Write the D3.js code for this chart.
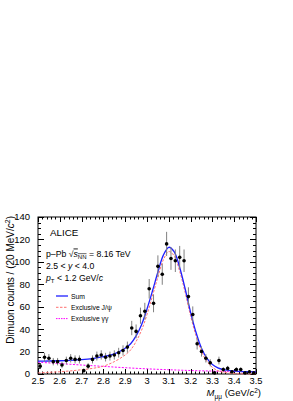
<!DOCTYPE html>
<html><head><meta charset="utf-8">
<script src="https://cdn.jsdelivr.net/npm/d3@7"></script>
<style>body{margin:0;background:#fff}svg{display:block;font-family:"Liberation Sans",Arial,sans-serif}</style>
</head><body><svg id="c" width="293" height="401"></svg>
<script>
// Data: bin centers (20 MeV bins) and counts
const binCenters = [2.51,2.53,2.55,2.57,2.59,2.61,2.63,2.65,2.67,2.69,2.71,2.73,2.75,2.77,2.79,2.81,2.83,2.85,2.87,2.89,2.91,2.93,2.95,2.97,2.99,3.01,3.03,3.05,3.07,3.09,3.11,3.13,3.15,3.17,3.19,3.21,3.23,3.25,3.27,3.29,3.31,3.33,3.35,3.37,3.39,3.41,3.43,3.45,3.47,3.49];
const counts = [7,15,14,11,11,8,12,14,13,13,3,7,13,16,17,15,16,17,19,21,24,41,38,52,56,76,63,96,89,116,103,101,104,101,69,53,27,20,14,10,1,12,4,5,2,4,4,1,2,1];
// Fit curves
const sumX = [2.50,2.55,2.60,2.65,2.70,2.75,2.80,2.85,2.90,2.925,2.95,2.975,3.00,3.025,3.05,3.075,3.10,3.125,3.15,3.175,3.20,3.225,3.25,3.275,3.30,3.325,3.35,3.40,3.45,3.50];
const sumY = [11.5,11.6,11.8,12.2,12.8,13.8,15.5,18,23,27,34,44,58,74,91,106,113,109,95,76,55,37,23,14,8.5,5.5,4,2.6,2.1,1.9];
const jpsiX = [2.50,2.55,2.60,2.65,2.70,2.75,2.80,2.85,2.90,2.925,2.95,2.975,3.00,3.025,3.05,3.075,3.10,3.125,3.15,3.175,3.20,3.225,3.25,3.275,3.30,3.325,3.35,3.40,3.45,3.50];
const jpsiY = [1,1.5,2,2.8,3.8,5,7,11,17,21.5,29,39,53,69.5,86.5,101.8,109.2,105.3,91.5,72.7,51.9,34,20,11.2,5.9,3,1.6,0.4,0.1,0];
const ggX = [2.50,2.60,2.70,2.80,2.90,3.00,3.10,3.20,3.30,3.40,3.50];
const ggY = [10.5,9.3,8.0,6.8,5.6,4.6,3.8,3.1,2.6,2.2,1.9];
const xTicks = [2.5,2.6,2.7,2.8,2.9,3,3.1,3.2,3.3,3.4,3.5];
const yTicks = [0,20,40,60,80,100,120,140];

const svg = d3.select("#c");
const L=38, R=256, T=217, B=374;
const x = d3.scaleLinear().domain([2.5,3.5]).range([L,R]);
const y = d3.scaleLinear().domain([0,140]).range([B,T]);

// frame
svg.append("rect").attr("x",L).attr("y",T).attr("width",R-L).attr("height",B-T)
  .attr("fill","none").attr("stroke","#000").attr("stroke-width",1);

// ticks (inside, all sides)
const g = svg.append("g").attr("stroke","#000").attr("stroke-width",1);
const xMinor = d3.range(0,51).map(i=>2.5+i*0.02);
xMinor.forEach((v,i)=>{
  const major = i%5===0, len = major?5:2.5;
  const px = Math.round(x(v))+0.5;
  g.append("line").attr("x1",px).attr("x2",px).attr("y1",B).attr("y2",B-len);
  g.append("line").attr("x1",px).attr("x2",px).attr("y1",T).attr("y2",T+len);
});
const yMinor = d3.range(0,29).map(i=>i*5);
yMinor.forEach((v,i)=>{
  const major = i%4===0, len = major?6:3;
  const py = Math.round(y(v))+0.5;
  g.append("line").attr("x1",L).attr("x2",L+len).attr("y1",py).attr("y2",py);
  g.append("line").attr("x1",R).attr("x2",R-len).attr("y1",py).attr("y2",py);
});

// tick labels
svg.append("g").selectAll("text").data(xTicks).join("text")
  .attr("x",d=>x(d)).attr("y",384).attr("text-anchor","middle")
  .attr("font-size",9.3).text(d=>d3.format("~g")(d));
svg.append("g").selectAll("text").data(yTicks).join("text")
  .attr("x",30).attr("y",d=>y(d)+3.4).attr("text-anchor","end")
  .attr("font-size",9.5).text(d=>d);

// axis titles
const yt = svg.append("text").attr("transform",`translate(14,${T-1}) rotate(-90)`)
  .attr("text-anchor","end").attr("font-size",10);
yt.append("tspan").text("Dimuon counts / (20 MeV/");
yt.append("tspan").attr("font-style","italic").text("c");
yt.append("tspan").attr("dy",-3.7).attr("font-size",7).text("2");
yt.append("tspan").attr("dy",3.7).text(")");

const xt = svg.append("text").attr("x",261).attr("y",396).attr("text-anchor","end").attr("font-size",9.5);
xt.append("tspan").attr("font-style","italic").text("M");
xt.append("tspan").attr("dy",2.5).attr("font-size",6.5).text("μμ");
xt.append("tspan").attr("dy",-2.5).text(" (GeV/");
xt.append("tspan").attr("font-style","italic").text("c");
xt.append("tspan").attr("dy",-3.5).attr("font-size",6.5).text("2");
xt.append("tspan").attr("dy",3.5).text(")");

// curves
const line = (xs,ys)=>d3.line().curve(d3.curveCatmullRom.alpha(0.5))
  .x((d,i)=>x(xs[i])).y((d,i)=>y(ys[i]))(ys);
svg.append("path").attr("d",line(ggX,ggY)).attr("fill","none")
  .attr("stroke","#ff00ff").attr("stroke-width",1).attr("stroke-dasharray","2,1.5");
svg.append("path").attr("d",line(jpsiX,jpsiY)).attr("fill","none")
  .attr("stroke","#ff7070").attr("stroke-width",1).attr("stroke-dasharray","2.5,1.5");
svg.append("path").attr("d",line(sumX,sumY)).attr("fill","none")
  .attr("stroke","#1f1fff").attr("stroke-width",1.3);

// data points with error bars
const pts = svg.append("g");
binCenters.forEach((c,i)=>{
  const n = counts[i], e = Math.sqrt(n);
  pts.append("line").attr("x1",x(c)).attr("x2",x(c))
    .attr("y1",y(Math.max(0,n-e))).attr("y2",y(n+e))
    .attr("stroke","#808080").attr("stroke-width",1);
});
pts.selectAll("circle").data(counts).join("circle")
  .attr("cx",(d,i)=>x(binCenters[i])).attr("cy",d=>y(d)).attr("r",1.8).attr("fill","#000");

// labels
svg.append("text").attr("x",50).attr("y",236).attr("font-size",9.8).text("ALICE");
const t1 = svg.append("text").attr("x",46).attr("y",256.5).attr("font-size",8.7);
t1.append("tspan").text("p–Pb ");
t1.append("tspan").text("√");
t1.append("tspan").attr("font-style","italic").attr("text-decoration","overline").text("s");
t1.append("tspan").attr("dy",2).attr("font-size",6).attr("text-decoration","overline").text("NN");
t1.append("tspan").attr("dy",-2).text(" = 8.16 TeV");
const t2 = svg.append("text").attr("x",46).attr("y",269).attr("font-size",8.7);
t2.append("tspan").text("2.5 < ");
t2.append("tspan").attr("font-style","italic").text("y");
t2.append("tspan").text(" < 4.0");
const t3 = svg.append("text").attr("x",46).attr("y",280.5).attr("font-size",8.7);
t3.append("tspan").attr("font-style","italic").text("p");
t3.append("tspan").attr("dy",2).attr("font-size",6).text("T");
t3.append("tspan").attr("dy",-2).text(" < 1.2 GeV/");
t3.append("tspan").attr("font-style","italic").text("c");

// legend
const legend = [
  {label:"Sum", color:"#1f1fff", dash:null, w:1.3},
  {label:"Exclusive J/ψ", color:"#ff7070", dash:"2.5,1.5", w:1},
  {label:"Exclusive γγ", color:"#ff00ff", dash:"1.5,1", w:1}
];
legend.forEach((d,i)=>{
  const ly = 296 + i*11.3;
  svg.append("line").attr("x1",56).attr("x2",68).attr("y1",ly).attr("y2",ly)
    .attr("stroke",d.color).attr("stroke-width",d.w).attr("stroke-dasharray",d.dash);
  svg.append("text").attr("x",71).attr("y",ly+2.5).attr("font-size",6.8).text(d.label);
});
</script></body></html>
